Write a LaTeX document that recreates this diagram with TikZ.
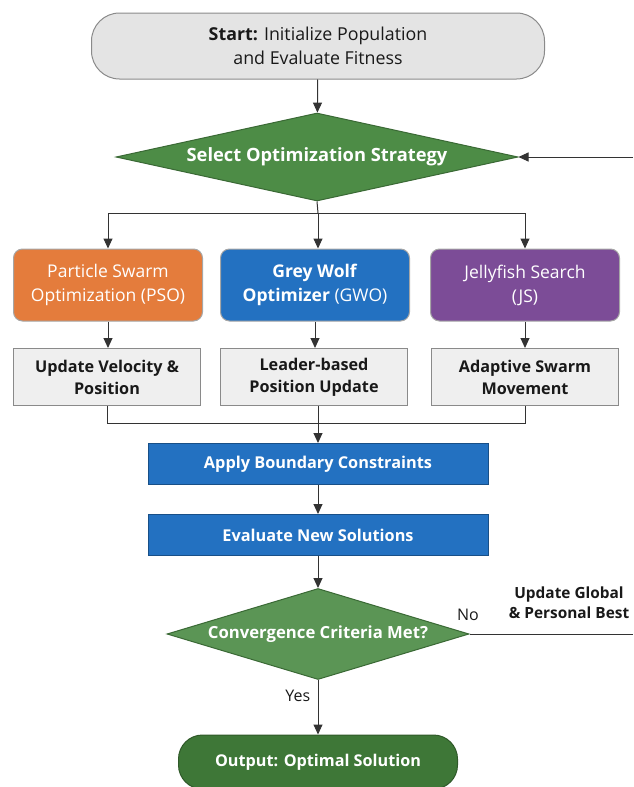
\documentclass[tikz,border=0pt]{standalone}
\usepackage{fontspec}
\setmainfont{Open Sans}
\usepackage{tikz}
\usetikzlibrary{arrows.meta,shapes.geometric}

\definecolor{lineclr}{HTML}{333333}
\definecolor{startfill}{HTML}{E4E4E4}
\definecolor{greyfill}{HTML}{EFEFEF}
\definecolor{greyline}{HTML}{8A8A8A}
\definecolor{stratgreen}{HTML}{4D8C46}
\definecolor{outgreen}{HTML}{3E7737}
\definecolor{psoorange}{HTML}{E47C3C}
\definecolor{gwoblue}{HTML}{2371C1}
\definecolor{jspurple}{HTML}{7C4C97}

\begin{document}
\begin{tikzpicture}[x=1pt,y=-1pt,
  >={Triangle[width=9pt,length=10pt]},
  color=lineclr, line width=1pt,
  algobox/.style={rectangle,rounded corners=9pt,minimum width=189pt,minimum height=72pt,
    align=center,text=white,font=\fontsize{17.5}{24}\selectfont,draw=black!35},
  updbox/.style={rectangle,fill=greyfill,draw=greyline,minimum width=187pt,minimum height=57pt,
    align=center,text=black!90,font=\bfseries\fontsize{16.2}{22}\selectfont},
  stepbox/.style={rectangle,fill=gwoblue,draw=gwoblue!70!black,minimum width=340pt,minimum height=41pt,
    text=white,font=\bfseries\fontsize{16.3}{19}\selectfont},
  decide/.style={diamond,aspect=4.5,inner sep=0pt,text=white,draw=stratgreen!75!black},
  lbl/.style={font=\fontsize{16}{20}\selectfont,align=center,text=black!90}]

 \useasboundingbox (0,0) rectangle (633,787);

 % start and strategy choice
 \node[rectangle,rounded corners=28pt,fill=startfill,draw=greyline,minimum width=453pt,minimum height=66pt,
   align=center,text=black!90,font=\fontsize{17.8}{24}\selectfont] (start) at (318,46)
   {\textbf{Start:} Initialize Population\\and Evaluate Fitness};
 \node[decide,fill=stratgreen,minimum width=402pt,minimum height=88pt,font=\bfseries\fontsize{18.3}{22}\selectfont]
   (select) at (317,157) {Select Optimization Strategy};

 % the three optimizers
 \node[algobox,fill=psoorange] (pso) at (108,285) {Particle Swarm\\Optimization (PSO)};
 \node[algobox,fill=gwoblue] (gwo) at (315,285) {\textbf{Grey Wolf}\\\textbf{Optimizer} (GWO)};
 \node[algobox,fill=jspurple] (js) at (525,285) {Jellyfish Search\\(JS)};

 \node[updbox] (psoupd) at (107,377) {Update Velocity \&\\Position};
 \node[updbox] (gwoupd) at (314,377) {Leader-based\\Position Update};
 \node[updbox] (jsupd) at (525,377) {Adaptive Swarm\\Movement};

 % common steps
 \node[stepbox] (bound) at (318,464) {Apply Boundary Constraints};
 \node[stepbox] (evalnew) at (318,535) {Evaluate New Solutions};
 \node[decide,fill=stratgreen!92!white,minimum width=302pt,minimum height=91pt,font=\bfseries\fontsize{16.7}{20}\selectfont]
   (conv) at (318,634) {Convergence Criteria Met?};
 \node[rectangle,rounded corners=24pt,fill=outgreen,draw=outgreen!75!black,minimum width=279pt,minimum height=54pt,
   text=white,font=\bfseries\fontsize{16.2}{19}\selectfont] (output) at (318,762) {Output: Optimal Solution};

 \node[lbl] (nolbl) at (468,615) {No};
 \node[lbl,font=\bfseries\fontsize{15.4}{20}\selectfont] (updbest) at (569,603) {Update Global\\\& Personal Best};

 \coordinate (split) at (318,213);
 \coordinate (join) at (318,423);
 \coordinate (backin) at (633,157);
 \coordinate (noout) at (633,634);

 % connectors
 \draw[->] (start) -- (select);
 \draw (select.south) -- (split);
 \draw[->] (split) -| (pso);
 \draw[->] (split) -| (js);
 \draw[->] (split) -- (split |- gwo.north);
 \draw[->] (pso) -- (pso |- psoupd.north);
 \draw[->] (gwo) -- (gwo |- gwoupd.north);
 \draw[->] (js) -- (js |- jsupd.north);
 \draw (psoupd) |- (join);
 \draw (jsupd) |- (join);
 \draw (gwoupd.south -| join) -- (join);
 \draw[->] (join) -- (bound);
 \draw[->] (bound) -- (evalnew);
 \draw[->] (evalnew) -- (conv);
 \draw[->] (conv) -- node[lbl,left,pos=0.3,xshift=-4pt] {Yes} (output);
 \draw (conv.east) -- (noout);
 \draw[->] (backin) -- (select.east);
\end{tikzpicture}
\end{document}
